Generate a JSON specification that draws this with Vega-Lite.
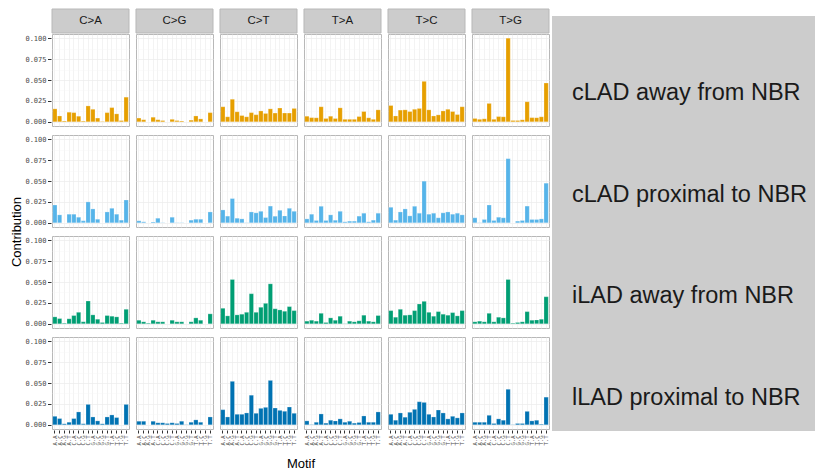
{
  "$schema": "https://vega.github.io/schema/vega-lite/v6.json",
  "background": "white",
  "padding": {"left": 10, "top": 8, "right": 0, "bottom": 0},
  "config": {
    "font": "Liberation Sans",
    "view": {"stroke": null},
    "axis": {
      "labelFont": "DejaVu Sans Mono",
      "labelColor": "#4d4d4d",
      "titleFont": "Liberation Sans",
      "titleFontWeight": "normal",
      "titleFontSize": 13,
      "titleColor": "#000000",
      "domain": false,
      "tickColor": "#333333"
    },
    "header": {
      "labelPadding": 0,
      "titleFont": "Liberation Sans",
      "titleFontWeight": "normal",
      "titleFontSize": 13,
      "titleColor": "#000000"
    }
  },
  "datasets": {
    "types": [
      {"type": "C>A"}, {"type": "C>G"}, {"type": "C>T"},
      {"type": "T>A"}, {"type": "T>C"}, {"type": "T>G"}
    ],
    "groups": [
      {"grp": "cLAD away from NBR"},
      {"grp": "cLAD proximal to NBR"},
      {"grp": "iLAD away from NBR"},
      {"grp": "lLAD proximal to NBR"}
    ],
    "profile": [
      {"grp": "cLAD away from NBR", "type": "C>A", "motif": "A.A", "value": 0.0155},
      {"grp": "cLAD away from NBR", "type": "C>A", "motif": "A.C", "value": 0.007},
      {"grp": "cLAD away from NBR", "type": "C>A", "motif": "A.G", "value": 0.001},
      {"grp": "cLAD away from NBR", "type": "C>A", "motif": "A.T", "value": 0.0115},
      {"grp": "cLAD away from NBR", "type": "C>A", "motif": "C.A", "value": 0.011},
      {"grp": "cLAD away from NBR", "type": "C>A", "motif": "C.C", "value": 0.0067},
      {"grp": "cLAD away from NBR", "type": "C>A", "motif": "C.G", "value": 0.001},
      {"grp": "cLAD away from NBR", "type": "C>A", "motif": "C.T", "value": 0.019},
      {"grp": "cLAD away from NBR", "type": "C>A", "motif": "G.A", "value": 0.015},
      {"grp": "cLAD away from NBR", "type": "C>A", "motif": "G.C", "value": 0.0045},
      {"grp": "cLAD away from NBR", "type": "C>A", "motif": "G.G", "value": 0.0005},
      {"grp": "cLAD away from NBR", "type": "C>A", "motif": "G.T", "value": 0.011},
      {"grp": "cLAD away from NBR", "type": "C>A", "motif": "T.A", "value": 0.017},
      {"grp": "cLAD away from NBR", "type": "C>A", "motif": "T.C", "value": 0.0095},
      {"grp": "cLAD away from NBR", "type": "C>A", "motif": "T.G", "value": 0.0015},
      {"grp": "cLAD away from NBR", "type": "C>A", "motif": "T.T", "value": 0.0295},
      {"grp": "cLAD away from NBR", "type": "C>G", "motif": "A.A", "value": 0.0045},
      {"grp": "cLAD away from NBR", "type": "C>G", "motif": "A.C", "value": 0.0025},
      {"grp": "cLAD away from NBR", "type": "C>G", "motif": "A.G", "value": 0.0},
      {"grp": "cLAD away from NBR", "type": "C>G", "motif": "A.T", "value": 0.0055},
      {"grp": "cLAD away from NBR", "type": "C>G", "motif": "C.A", "value": 0.0025},
      {"grp": "cLAD away from NBR", "type": "C>G", "motif": "C.C", "value": 0.0015},
      {"grp": "cLAD away from NBR", "type": "C>G", "motif": "C.G", "value": 0.0},
      {"grp": "cLAD away from NBR", "type": "C>G", "motif": "C.T", "value": 0.003},
      {"grp": "cLAD away from NBR", "type": "C>G", "motif": "G.A", "value": 0.0015},
      {"grp": "cLAD away from NBR", "type": "C>G", "motif": "G.C", "value": 0.001},
      {"grp": "cLAD away from NBR", "type": "C>G", "motif": "G.G", "value": 0.0},
      {"grp": "cLAD away from NBR", "type": "C>G", "motif": "G.T", "value": 0.002},
      {"grp": "cLAD away from NBR", "type": "C>G", "motif": "T.A", "value": 0.007},
      {"grp": "cLAD away from NBR", "type": "C>G", "motif": "T.C", "value": 0.0035},
      {"grp": "cLAD away from NBR", "type": "C>G", "motif": "T.G", "value": 0.0},
      {"grp": "cLAD away from NBR", "type": "C>G", "motif": "T.T", "value": 0.011},
      {"grp": "cLAD away from NBR", "type": "C>T", "motif": "A.A", "value": 0.018},
      {"grp": "cLAD away from NBR", "type": "C>T", "motif": "A.C", "value": 0.006},
      {"grp": "cLAD away from NBR", "type": "C>T", "motif": "A.G", "value": 0.027},
      {"grp": "cLAD away from NBR", "type": "C>T", "motif": "A.T", "value": 0.012},
      {"grp": "cLAD away from NBR", "type": "C>T", "motif": "C.A", "value": 0.0075},
      {"grp": "cLAD away from NBR", "type": "C>T", "motif": "C.C", "value": 0.006},
      {"grp": "cLAD away from NBR", "type": "C>T", "motif": "C.G", "value": 0.011},
      {"grp": "cLAD away from NBR", "type": "C>T", "motif": "C.T", "value": 0.0085},
      {"grp": "cLAD away from NBR", "type": "C>T", "motif": "G.A", "value": 0.013},
      {"grp": "cLAD away from NBR", "type": "C>T", "motif": "G.C", "value": 0.01},
      {"grp": "cLAD away from NBR", "type": "C>T", "motif": "G.G", "value": 0.0155},
      {"grp": "cLAD away from NBR", "type": "C>T", "motif": "G.T", "value": 0.0105},
      {"grp": "cLAD away from NBR", "type": "C>T", "motif": "T.A", "value": 0.0165},
      {"grp": "cLAD away from NBR", "type": "C>T", "motif": "T.C", "value": 0.0105},
      {"grp": "cLAD away from NBR", "type": "C>T", "motif": "T.G", "value": 0.0105},
      {"grp": "cLAD away from NBR", "type": "C>T", "motif": "T.T", "value": 0.016},
      {"grp": "cLAD away from NBR", "type": "T>A", "motif": "A.A", "value": 0.0067},
      {"grp": "cLAD away from NBR", "type": "T>A", "motif": "A.C", "value": 0.005},
      {"grp": "cLAD away from NBR", "type": "T>A", "motif": "A.G", "value": 0.0048},
      {"grp": "cLAD away from NBR", "type": "T>A", "motif": "A.T", "value": 0.018},
      {"grp": "cLAD away from NBR", "type": "T>A", "motif": "C.A", "value": 0.004},
      {"grp": "cLAD away from NBR", "type": "T>A", "motif": "C.C", "value": 0.0067},
      {"grp": "cLAD away from NBR", "type": "T>A", "motif": "C.G", "value": 0.004},
      {"grp": "cLAD away from NBR", "type": "T>A", "motif": "C.T", "value": 0.0167},
      {"grp": "cLAD away from NBR", "type": "T>A", "motif": "G.A", "value": 0.003},
      {"grp": "cLAD away from NBR", "type": "T>A", "motif": "G.C", "value": 0.003},
      {"grp": "cLAD away from NBR", "type": "T>A", "motif": "G.G", "value": 0.003},
      {"grp": "cLAD away from NBR", "type": "T>A", "motif": "G.T", "value": 0.0063},
      {"grp": "cLAD away from NBR", "type": "T>A", "motif": "T.A", "value": 0.0123},
      {"grp": "cLAD away from NBR", "type": "T>A", "motif": "T.C", "value": 0.0048},
      {"grp": "cLAD away from NBR", "type": "T>A", "motif": "T.G", "value": 0.003},
      {"grp": "cLAD away from NBR", "type": "T>A", "motif": "T.T", "value": 0.0143},
      {"grp": "cLAD away from NBR", "type": "T>C", "motif": "A.A", "value": 0.0195},
      {"grp": "cLAD away from NBR", "type": "T>C", "motif": "A.C", "value": 0.007},
      {"grp": "cLAD away from NBR", "type": "T>C", "motif": "A.G", "value": 0.014},
      {"grp": "cLAD away from NBR", "type": "T>C", "motif": "A.T", "value": 0.0143},
      {"grp": "cLAD away from NBR", "type": "T>C", "motif": "C.A", "value": 0.0123},
      {"grp": "cLAD away from NBR", "type": "T>C", "motif": "C.C", "value": 0.015},
      {"grp": "cLAD away from NBR", "type": "T>C", "motif": "C.G", "value": 0.016},
      {"grp": "cLAD away from NBR", "type": "T>C", "motif": "C.T", "value": 0.0484},
      {"grp": "cLAD away from NBR", "type": "T>C", "motif": "G.A", "value": 0.0143},
      {"grp": "cLAD away from NBR", "type": "T>C", "motif": "G.C", "value": 0.007},
      {"grp": "cLAD away from NBR", "type": "T>C", "motif": "G.G", "value": 0.0083},
      {"grp": "cLAD away from NBR", "type": "T>C", "motif": "G.T", "value": 0.013},
      {"grp": "cLAD away from NBR", "type": "T>C", "motif": "T.A", "value": 0.015},
      {"grp": "cLAD away from NBR", "type": "T>C", "motif": "T.C", "value": 0.0123},
      {"grp": "cLAD away from NBR", "type": "T>C", "motif": "T.G", "value": 0.0087},
      {"grp": "cLAD away from NBR", "type": "T>C", "motif": "T.T", "value": 0.018},
      {"grp": "cLAD away from NBR", "type": "T>G", "motif": "A.A", "value": 0.004},
      {"grp": "cLAD away from NBR", "type": "T>G", "motif": "A.C", "value": 0.003},
      {"grp": "cLAD away from NBR", "type": "T>G", "motif": "A.G", "value": 0.0036},
      {"grp": "cLAD away from NBR", "type": "T>G", "motif": "A.T", "value": 0.022},
      {"grp": "cLAD away from NBR", "type": "T>G", "motif": "C.A", "value": 0.003},
      {"grp": "cLAD away from NBR", "type": "T>G", "motif": "C.C", "value": 0.0063},
      {"grp": "cLAD away from NBR", "type": "T>G", "motif": "C.G", "value": 0.006},
      {"grp": "cLAD away from NBR", "type": "T>G", "motif": "C.T", "value": 0.1},
      {"grp": "cLAD away from NBR", "type": "T>G", "motif": "G.A", "value": 0.0016},
      {"grp": "cLAD away from NBR", "type": "T>G", "motif": "G.C", "value": 0.0016},
      {"grp": "cLAD away from NBR", "type": "T>G", "motif": "G.G", "value": 0.0024},
      {"grp": "cLAD away from NBR", "type": "T>G", "motif": "G.T", "value": 0.024},
      {"grp": "cLAD away from NBR", "type": "T>G", "motif": "T.A", "value": 0.005},
      {"grp": "cLAD away from NBR", "type": "T>G", "motif": "T.C", "value": 0.005},
      {"grp": "cLAD away from NBR", "type": "T>G", "motif": "T.G", "value": 0.006},
      {"grp": "cLAD away from NBR", "type": "T>G", "motif": "T.T", "value": 0.0464},

      {"grp": "cLAD proximal to NBR", "type": "C>A", "motif": "A.A", "value": 0.0213},
      {"grp": "cLAD proximal to NBR", "type": "C>A", "motif": "A.C", "value": 0.0095},
      {"grp": "cLAD proximal to NBR", "type": "C>A", "motif": "A.G", "value": 0.0},
      {"grp": "cLAD proximal to NBR", "type": "C>A", "motif": "A.T", "value": 0.0103},
      {"grp": "cLAD proximal to NBR", "type": "C>A", "motif": "C.A", "value": 0.0103},
      {"grp": "cLAD proximal to NBR", "type": "C>A", "motif": "C.C", "value": 0.0067},
      {"grp": "cLAD proximal to NBR", "type": "C>A", "motif": "C.G", "value": 0.0024},
      {"grp": "cLAD proximal to NBR", "type": "C>A", "motif": "C.T", "value": 0.025},
      {"grp": "cLAD proximal to NBR", "type": "C>A", "motif": "G.A", "value": 0.0166},
      {"grp": "cLAD proximal to NBR", "type": "C>A", "motif": "G.C", "value": 0.0043},
      {"grp": "cLAD proximal to NBR", "type": "C>A", "motif": "G.G", "value": 0.0},
      {"grp": "cLAD proximal to NBR", "type": "C>A", "motif": "G.T", "value": 0.013},
      {"grp": "cLAD proximal to NBR", "type": "C>A", "motif": "T.A", "value": 0.0174},
      {"grp": "cLAD proximal to NBR", "type": "C>A", "motif": "T.C", "value": 0.0103},
      {"grp": "cLAD proximal to NBR", "type": "C>A", "motif": "T.G", "value": 0.0032},
      {"grp": "cLAD proximal to NBR", "type": "C>A", "motif": "T.T", "value": 0.0273},
      {"grp": "cLAD proximal to NBR", "type": "C>G", "motif": "A.A", "value": 0.0024},
      {"grp": "cLAD proximal to NBR", "type": "C>G", "motif": "A.C", "value": 0.0012},
      {"grp": "cLAD proximal to NBR", "type": "C>G", "motif": "A.G", "value": 0.0},
      {"grp": "cLAD proximal to NBR", "type": "C>G", "motif": "A.T", "value": 0.001},
      {"grp": "cLAD proximal to NBR", "type": "C>G", "motif": "C.A", "value": 0.0055},
      {"grp": "cLAD proximal to NBR", "type": "C>G", "motif": "C.C", "value": 0.0003},
      {"grp": "cLAD proximal to NBR", "type": "C>G", "motif": "C.G", "value": 0.0},
      {"grp": "cLAD proximal to NBR", "type": "C>G", "motif": "C.T", "value": 0.0067},
      {"grp": "cLAD proximal to NBR", "type": "C>G", "motif": "G.A", "value": 0.0003},
      {"grp": "cLAD proximal to NBR", "type": "C>G", "motif": "G.C", "value": 0.0003},
      {"grp": "cLAD proximal to NBR", "type": "C>G", "motif": "G.G", "value": 0.0},
      {"grp": "cLAD proximal to NBR", "type": "C>G", "motif": "G.T", "value": 0.0032},
      {"grp": "cLAD proximal to NBR", "type": "C>G", "motif": "T.A", "value": 0.0043},
      {"grp": "cLAD proximal to NBR", "type": "C>G", "motif": "T.C", "value": 0.0043},
      {"grp": "cLAD proximal to NBR", "type": "C>G", "motif": "T.G", "value": 0.0},
      {"grp": "cLAD proximal to NBR", "type": "C>G", "motif": "T.T", "value": 0.013},
      {"grp": "cLAD proximal to NBR", "type": "C>T", "motif": "A.A", "value": 0.0154},
      {"grp": "cLAD proximal to NBR", "type": "C>T", "motif": "A.C", "value": 0.008},
      {"grp": "cLAD proximal to NBR", "type": "C>T", "motif": "A.G", "value": 0.029},
      {"grp": "cLAD proximal to NBR", "type": "C>T", "motif": "A.T", "value": 0.0055},
      {"grp": "cLAD proximal to NBR", "type": "C>T", "motif": "C.A", "value": 0.0047},
      {"grp": "cLAD proximal to NBR", "type": "C>T", "motif": "C.C", "value": 0.0003},
      {"grp": "cLAD proximal to NBR", "type": "C>T", "motif": "C.G", "value": 0.013},
      {"grp": "cLAD proximal to NBR", "type": "C>T", "motif": "C.T", "value": 0.0119},
      {"grp": "cLAD proximal to NBR", "type": "C>T", "motif": "G.A", "value": 0.0138},
      {"grp": "cLAD proximal to NBR", "type": "C>T", "motif": "G.C", "value": 0.0063},
      {"grp": "cLAD proximal to NBR", "type": "C>T", "motif": "G.G", "value": 0.02},
      {"grp": "cLAD proximal to NBR", "type": "C>T", "motif": "G.T", "value": 0.0079},
      {"grp": "cLAD proximal to NBR", "type": "C>T", "motif": "T.A", "value": 0.015},
      {"grp": "cLAD proximal to NBR", "type": "C>T", "motif": "T.C", "value": 0.0083},
      {"grp": "cLAD proximal to NBR", "type": "C>T", "motif": "T.G", "value": 0.0174},
      {"grp": "cLAD proximal to NBR", "type": "C>T", "motif": "T.T", "value": 0.0138},
      {"grp": "cLAD proximal to NBR", "type": "T>A", "motif": "A.A", "value": 0.0047},
      {"grp": "cLAD proximal to NBR", "type": "T>A", "motif": "A.C", "value": 0.0103},
      {"grp": "cLAD proximal to NBR", "type": "T>A", "motif": "A.G", "value": 0.0028},
      {"grp": "cLAD proximal to NBR", "type": "T>A", "motif": "A.T", "value": 0.0198},
      {"grp": "cLAD proximal to NBR", "type": "T>A", "motif": "C.A", "value": 0.0028},
      {"grp": "cLAD proximal to NBR", "type": "T>A", "motif": "C.C", "value": 0.0095},
      {"grp": "cLAD proximal to NBR", "type": "T>A", "motif": "C.G", "value": 0.0032},
      {"grp": "cLAD proximal to NBR", "type": "T>A", "motif": "C.T", "value": 0.0138},
      {"grp": "cLAD proximal to NBR", "type": "T>A", "motif": "G.A", "value": 0.0012},
      {"grp": "cLAD proximal to NBR", "type": "T>A", "motif": "G.C", "value": 0.002},
      {"grp": "cLAD proximal to NBR", "type": "T>A", "motif": "G.G", "value": 0.002},
      {"grp": "cLAD proximal to NBR", "type": "T>A", "motif": "G.T", "value": 0.008},
      {"grp": "cLAD proximal to NBR", "type": "T>A", "motif": "T.A", "value": 0.0115},
      {"grp": "cLAD proximal to NBR", "type": "T>A", "motif": "T.C", "value": 0.0012},
      {"grp": "cLAD proximal to NBR", "type": "T>A", "motif": "T.G", "value": 0.0032},
      {"grp": "cLAD proximal to NBR", "type": "T>A", "motif": "T.T", "value": 0.0115},
      {"grp": "cLAD proximal to NBR", "type": "T>C", "motif": "A.A", "value": 0.0186},
      {"grp": "cLAD proximal to NBR", "type": "T>C", "motif": "A.C", "value": 0.0032},
      {"grp": "cLAD proximal to NBR", "type": "T>C", "motif": "A.G", "value": 0.013},
      {"grp": "cLAD proximal to NBR", "type": "T>C", "motif": "A.T", "value": 0.0166},
      {"grp": "cLAD proximal to NBR", "type": "T>C", "motif": "C.A", "value": 0.0083},
      {"grp": "cLAD proximal to NBR", "type": "T>C", "motif": "C.C", "value": 0.0198},
      {"grp": "cLAD proximal to NBR", "type": "T>C", "motif": "C.G", "value": 0.0115},
      {"grp": "cLAD proximal to NBR", "type": "T>C", "motif": "C.T", "value": 0.0498},
      {"grp": "cLAD proximal to NBR", "type": "T>C", "motif": "G.A", "value": 0.0103},
      {"grp": "cLAD proximal to NBR", "type": "T>C", "motif": "G.C", "value": 0.0115},
      {"grp": "cLAD proximal to NBR", "type": "T>C", "motif": "G.G", "value": 0.006},
      {"grp": "cLAD proximal to NBR", "type": "T>C", "motif": "G.T", "value": 0.0119},
      {"grp": "cLAD proximal to NBR", "type": "T>C", "motif": "T.A", "value": 0.013},
      {"grp": "cLAD proximal to NBR", "type": "T>C", "motif": "T.C", "value": 0.0103},
      {"grp": "cLAD proximal to NBR", "type": "T>C", "motif": "T.G", "value": 0.0115},
      {"grp": "cLAD proximal to NBR", "type": "T>C", "motif": "T.T", "value": 0.0095},
      {"grp": "cLAD proximal to NBR", "type": "T>G", "motif": "A.A", "value": 0.006},
      {"grp": "cLAD proximal to NBR", "type": "T>G", "motif": "A.C", "value": 0.0003},
      {"grp": "cLAD proximal to NBR", "type": "T>G", "motif": "A.G", "value": 0.004},
      {"grp": "cLAD proximal to NBR", "type": "T>G", "motif": "A.T", "value": 0.0213},
      {"grp": "cLAD proximal to NBR", "type": "T>G", "motif": "C.A", "value": 0.0028},
      {"grp": "cLAD proximal to NBR", "type": "T>G", "motif": "C.C", "value": 0.0067},
      {"grp": "cLAD proximal to NBR", "type": "T>G", "motif": "C.G", "value": 0.006},
      {"grp": "cLAD proximal to NBR", "type": "T>G", "motif": "C.T", "value": 0.0767},
      {"grp": "cLAD proximal to NBR", "type": "T>G", "motif": "G.A", "value": 0.0},
      {"grp": "cLAD proximal to NBR", "type": "T>G", "motif": "G.C", "value": 0.002},
      {"grp": "cLAD proximal to NBR", "type": "T>G", "motif": "G.G", "value": 0.0028},
      {"grp": "cLAD proximal to NBR", "type": "T>G", "motif": "G.T", "value": 0.02},
      {"grp": "cLAD proximal to NBR", "type": "T>G", "motif": "T.A", "value": 0.004},
      {"grp": "cLAD proximal to NBR", "type": "T>G", "motif": "T.C", "value": 0.004},
      {"grp": "cLAD proximal to NBR", "type": "T>G", "motif": "T.G", "value": 0.0047},
      {"grp": "cLAD proximal to NBR", "type": "T>G", "motif": "T.T", "value": 0.0474},

      {"grp": "iLAD away from NBR", "type": "C>A", "motif": "A.A", "value": 0.0083},
      {"grp": "iLAD away from NBR", "type": "C>A", "motif": "A.C", "value": 0.0063},
      {"grp": "iLAD away from NBR", "type": "C>A", "motif": "A.G", "value": 0.0008},
      {"grp": "iLAD away from NBR", "type": "C>A", "motif": "A.T", "value": 0.006},
      {"grp": "iLAD away from NBR", "type": "C>A", "motif": "C.A", "value": 0.0099},
      {"grp": "iLAD away from NBR", "type": "C>A", "motif": "C.C", "value": 0.0138},
      {"grp": "iLAD away from NBR", "type": "C>A", "motif": "C.G", "value": 0.0024},
      {"grp": "iLAD away from NBR", "type": "C>A", "motif": "C.T", "value": 0.0273},
      {"grp": "iLAD away from NBR", "type": "C>A", "motif": "G.A", "value": 0.0107},
      {"grp": "iLAD away from NBR", "type": "C>A", "motif": "G.C", "value": 0.0055},
      {"grp": "iLAD away from NBR", "type": "C>A", "motif": "G.G", "value": 0.0016},
      {"grp": "iLAD away from NBR", "type": "C>A", "motif": "G.T", "value": 0.0099},
      {"grp": "iLAD away from NBR", "type": "C>A", "motif": "T.A", "value": 0.0091},
      {"grp": "iLAD away from NBR", "type": "C>A", "motif": "T.C", "value": 0.0083},
      {"grp": "iLAD away from NBR", "type": "C>A", "motif": "T.G", "value": 0.0008},
      {"grp": "iLAD away from NBR", "type": "C>A", "motif": "T.T", "value": 0.0174},
      {"grp": "iLAD away from NBR", "type": "C>G", "motif": "A.A", "value": 0.0043},
      {"grp": "iLAD away from NBR", "type": "C>G", "motif": "A.C", "value": 0.0024},
      {"grp": "iLAD away from NBR", "type": "C>G", "motif": "A.G", "value": 0.0008},
      {"grp": "iLAD away from NBR", "type": "C>G", "motif": "A.T", "value": 0.0043},
      {"grp": "iLAD away from NBR", "type": "C>G", "motif": "C.A", "value": 0.0024},
      {"grp": "iLAD away from NBR", "type": "C>G", "motif": "C.C", "value": 0.0024},
      {"grp": "iLAD away from NBR", "type": "C>G", "motif": "C.G", "value": 0.0},
      {"grp": "iLAD away from NBR", "type": "C>G", "motif": "C.T", "value": 0.0043},
      {"grp": "iLAD away from NBR", "type": "C>G", "motif": "G.A", "value": 0.0024},
      {"grp": "iLAD away from NBR", "type": "C>G", "motif": "G.C", "value": 0.0024},
      {"grp": "iLAD away from NBR", "type": "C>G", "motif": "G.G", "value": 0.0},
      {"grp": "iLAD away from NBR", "type": "C>G", "motif": "G.T", "value": 0.0024},
      {"grp": "iLAD away from NBR", "type": "C>G", "motif": "T.A", "value": 0.0071},
      {"grp": "iLAD away from NBR", "type": "C>G", "motif": "T.C", "value": 0.0043},
      {"grp": "iLAD away from NBR", "type": "C>G", "motif": "T.G", "value": 0.0},
      {"grp": "iLAD away from NBR", "type": "C>G", "motif": "T.T", "value": 0.0119},
      {"grp": "iLAD away from NBR", "type": "C>T", "motif": "A.A", "value": 0.0186},
      {"grp": "iLAD away from NBR", "type": "C>T", "motif": "A.C", "value": 0.0095},
      {"grp": "iLAD away from NBR", "type": "C>T", "motif": "A.G", "value": 0.053},
      {"grp": "iLAD away from NBR", "type": "C>T", "motif": "A.T", "value": 0.0107},
      {"grp": "iLAD away from NBR", "type": "C>T", "motif": "C.A", "value": 0.0115},
      {"grp": "iLAD away from NBR", "type": "C>T", "motif": "C.C", "value": 0.0138},
      {"grp": "iLAD away from NBR", "type": "C>T", "motif": "C.G", "value": 0.036},
      {"grp": "iLAD away from NBR", "type": "C>T", "motif": "C.T", "value": 0.0138},
      {"grp": "iLAD away from NBR", "type": "C>T", "motif": "G.A", "value": 0.0198},
      {"grp": "iLAD away from NBR", "type": "C>T", "motif": "G.C", "value": 0.0245},
      {"grp": "iLAD away from NBR", "type": "C>T", "motif": "G.G", "value": 0.0478},
      {"grp": "iLAD away from NBR", "type": "C>T", "motif": "G.T", "value": 0.018},
      {"grp": "iLAD away from NBR", "type": "C>T", "motif": "T.A", "value": 0.0166},
      {"grp": "iLAD away from NBR", "type": "C>T", "motif": "T.C", "value": 0.015},
      {"grp": "iLAD away from NBR", "type": "C>T", "motif": "T.G", "value": 0.0206},
      {"grp": "iLAD away from NBR", "type": "C>T", "motif": "T.T", "value": 0.0158},
      {"grp": "iLAD away from NBR", "type": "T>A", "motif": "A.A", "value": 0.0032},
      {"grp": "iLAD away from NBR", "type": "T>A", "motif": "A.C", "value": 0.0043},
      {"grp": "iLAD away from NBR", "type": "T>A", "motif": "A.G", "value": 0.0032},
      {"grp": "iLAD away from NBR", "type": "T>A", "motif": "A.T", "value": 0.0126},
      {"grp": "iLAD away from NBR", "type": "T>A", "motif": "C.A", "value": 0.0016},
      {"grp": "iLAD away from NBR", "type": "T>A", "motif": "C.C", "value": 0.0071},
      {"grp": "iLAD away from NBR", "type": "T>A", "motif": "C.G", "value": 0.0043},
      {"grp": "iLAD away from NBR", "type": "T>A", "motif": "C.T", "value": 0.0091},
      {"grp": "iLAD away from NBR", "type": "T>A", "motif": "G.A", "value": 0.0003},
      {"grp": "iLAD away from NBR", "type": "T>A", "motif": "G.C", "value": 0.0032},
      {"grp": "iLAD away from NBR", "type": "T>A", "motif": "G.G", "value": 0.0024},
      {"grp": "iLAD away from NBR", "type": "T>A", "motif": "G.T", "value": 0.0036},
      {"grp": "iLAD away from NBR", "type": "T>A", "motif": "T.A", "value": 0.0103},
      {"grp": "iLAD away from NBR", "type": "T>A", "motif": "T.C", "value": 0.0032},
      {"grp": "iLAD away from NBR", "type": "T>A", "motif": "T.G", "value": 0.0024},
      {"grp": "iLAD away from NBR", "type": "T>A", "motif": "T.T", "value": 0.0099},
      {"grp": "iLAD away from NBR", "type": "T>C", "motif": "A.A", "value": 0.0158},
      {"grp": "iLAD away from NBR", "type": "T>C", "motif": "A.C", "value": 0.0079},
      {"grp": "iLAD away from NBR", "type": "T>C", "motif": "A.G", "value": 0.0174},
      {"grp": "iLAD away from NBR", "type": "T>C", "motif": "A.T", "value": 0.0103},
      {"grp": "iLAD away from NBR", "type": "T>C", "motif": "C.A", "value": 0.0107},
      {"grp": "iLAD away from NBR", "type": "T>C", "motif": "C.C", "value": 0.0158},
      {"grp": "iLAD away from NBR", "type": "T>C", "motif": "C.G", "value": 0.0237},
      {"grp": "iLAD away from NBR", "type": "T>C", "motif": "C.T", "value": 0.0269},
      {"grp": "iLAD away from NBR", "type": "T>C", "motif": "G.A", "value": 0.0138},
      {"grp": "iLAD away from NBR", "type": "T>C", "motif": "G.C", "value": 0.0091},
      {"grp": "iLAD away from NBR", "type": "T>C", "motif": "G.G", "value": 0.0146},
      {"grp": "iLAD away from NBR", "type": "T>C", "motif": "G.T", "value": 0.0115},
      {"grp": "iLAD away from NBR", "type": "T>C", "motif": "T.A", "value": 0.0103},
      {"grp": "iLAD away from NBR", "type": "T>C", "motif": "T.C", "value": 0.0134},
      {"grp": "iLAD away from NBR", "type": "T>C", "motif": "T.G", "value": 0.0095},
      {"grp": "iLAD away from NBR", "type": "T>C", "motif": "T.T", "value": 0.0158},
      {"grp": "iLAD away from NBR", "type": "T>G", "motif": "A.A", "value": 0.0024},
      {"grp": "iLAD away from NBR", "type": "T>G", "motif": "A.C", "value": 0.0032},
      {"grp": "iLAD away from NBR", "type": "T>G", "motif": "A.G", "value": 0.0024},
      {"grp": "iLAD away from NBR", "type": "T>G", "motif": "A.T", "value": 0.0126},
      {"grp": "iLAD away from NBR", "type": "T>G", "motif": "C.A", "value": 0.0024},
      {"grp": "iLAD away from NBR", "type": "T>G", "motif": "C.C", "value": 0.0079},
      {"grp": "iLAD away from NBR", "type": "T>G", "motif": "C.G", "value": 0.0071},
      {"grp": "iLAD away from NBR", "type": "T>G", "motif": "C.T", "value": 0.053},
      {"grp": "iLAD away from NBR", "type": "T>G", "motif": "G.A", "value": 0.0008},
      {"grp": "iLAD away from NBR", "type": "T>G", "motif": "G.C", "value": 0.0016},
      {"grp": "iLAD away from NBR", "type": "T>G", "motif": "G.G", "value": 0.0024},
      {"grp": "iLAD away from NBR", "type": "T>G", "motif": "G.T", "value": 0.0146},
      {"grp": "iLAD away from NBR", "type": "T>G", "motif": "T.A", "value": 0.0043},
      {"grp": "iLAD away from NBR", "type": "T>G", "motif": "T.C", "value": 0.0047},
      {"grp": "iLAD away from NBR", "type": "T>G", "motif": "T.G", "value": 0.0055},
      {"grp": "iLAD away from NBR", "type": "T>G", "motif": "T.T", "value": 0.0324},

      {"grp": "lLAD proximal to NBR", "type": "C>A", "motif": "A.A", "value": 0.0102},
      {"grp": "lLAD proximal to NBR", "type": "C>A", "motif": "A.C", "value": 0.0075},
      {"grp": "lLAD proximal to NBR", "type": "C>A", "motif": "A.G", "value": 0.0012},
      {"grp": "lLAD proximal to NBR", "type": "C>A", "motif": "A.T", "value": 0.0031},
      {"grp": "lLAD proximal to NBR", "type": "C>A", "motif": "C.A", "value": 0.0075},
      {"grp": "lLAD proximal to NBR", "type": "C>A", "motif": "C.C", "value": 0.0154},
      {"grp": "lLAD proximal to NBR", "type": "C>A", "motif": "C.G", "value": 0.0012},
      {"grp": "lLAD proximal to NBR", "type": "C>A", "motif": "C.T", "value": 0.0244},
      {"grp": "lLAD proximal to NBR", "type": "C>A", "motif": "G.A", "value": 0.0094},
      {"grp": "lLAD proximal to NBR", "type": "C>A", "motif": "G.C", "value": 0.0047},
      {"grp": "lLAD proximal to NBR", "type": "C>A", "motif": "G.G", "value": 0.0012},
      {"grp": "lLAD proximal to NBR", "type": "C>A", "motif": "G.T", "value": 0.0094},
      {"grp": "lLAD proximal to NBR", "type": "C>A", "motif": "T.A", "value": 0.0118},
      {"grp": "lLAD proximal to NBR", "type": "C>A", "motif": "T.C", "value": 0.0087},
      {"grp": "lLAD proximal to NBR", "type": "C>A", "motif": "T.G", "value": 0.0},
      {"grp": "lLAD proximal to NBR", "type": "C>A", "motif": "T.T", "value": 0.0244},
      {"grp": "lLAD proximal to NBR", "type": "C>G", "motif": "A.A", "value": 0.0043},
      {"grp": "lLAD proximal to NBR", "type": "C>G", "motif": "A.C", "value": 0.0043},
      {"grp": "lLAD proximal to NBR", "type": "C>G", "motif": "A.G", "value": 0.0},
      {"grp": "lLAD proximal to NBR", "type": "C>G", "motif": "A.T", "value": 0.0043},
      {"grp": "lLAD proximal to NBR", "type": "C>G", "motif": "C.A", "value": 0.0024},
      {"grp": "lLAD proximal to NBR", "type": "C>G", "motif": "C.C", "value": 0.0024},
      {"grp": "lLAD proximal to NBR", "type": "C>G", "motif": "C.G", "value": 0.0016},
      {"grp": "lLAD proximal to NBR", "type": "C>G", "motif": "C.T", "value": 0.0024},
      {"grp": "lLAD proximal to NBR", "type": "C>G", "motif": "G.A", "value": 0.0016},
      {"grp": "lLAD proximal to NBR", "type": "C>G", "motif": "G.C", "value": 0.0043},
      {"grp": "lLAD proximal to NBR", "type": "C>G", "motif": "G.G", "value": 0.0003},
      {"grp": "lLAD proximal to NBR", "type": "C>G", "motif": "G.T", "value": 0.0031},
      {"grp": "lLAD proximal to NBR", "type": "C>G", "motif": "T.A", "value": 0.0059},
      {"grp": "lLAD proximal to NBR", "type": "C>G", "motif": "T.C", "value": 0.0031},
      {"grp": "lLAD proximal to NBR", "type": "C>G", "motif": "T.G", "value": 0.0},
      {"grp": "lLAD proximal to NBR", "type": "C>G", "motif": "T.T", "value": 0.0094},
      {"grp": "lLAD proximal to NBR", "type": "C>T", "motif": "A.A", "value": 0.0181},
      {"grp": "lLAD proximal to NBR", "type": "C>T", "motif": "A.C", "value": 0.0094},
      {"grp": "lLAD proximal to NBR", "type": "C>T", "motif": "A.G", "value": 0.052},
      {"grp": "lLAD proximal to NBR", "type": "C>T", "motif": "A.T", "value": 0.0126},
      {"grp": "lLAD proximal to NBR", "type": "C>T", "motif": "C.A", "value": 0.0126},
      {"grp": "lLAD proximal to NBR", "type": "C>T", "motif": "C.C", "value": 0.0142},
      {"grp": "lLAD proximal to NBR", "type": "C>T", "motif": "C.G", "value": 0.0354},
      {"grp": "lLAD proximal to NBR", "type": "C>T", "motif": "C.T", "value": 0.0138},
      {"grp": "lLAD proximal to NBR", "type": "C>T", "motif": "G.A", "value": 0.0197},
      {"grp": "lLAD proximal to NBR", "type": "C>T", "motif": "G.C", "value": 0.0209},
      {"grp": "lLAD proximal to NBR", "type": "C>T", "motif": "G.G", "value": 0.0531},
      {"grp": "lLAD proximal to NBR", "type": "C>T", "motif": "G.T", "value": 0.0201},
      {"grp": "lLAD proximal to NBR", "type": "C>T", "motif": "T.A", "value": 0.0173},
      {"grp": "lLAD proximal to NBR", "type": "C>T", "motif": "T.C", "value": 0.0161},
      {"grp": "lLAD proximal to NBR", "type": "C>T", "motif": "T.G", "value": 0.0213},
      {"grp": "lLAD proximal to NBR", "type": "C>T", "motif": "T.T", "value": 0.0138},
      {"grp": "lLAD proximal to NBR", "type": "T>A", "motif": "A.A", "value": 0.0047},
      {"grp": "lLAD proximal to NBR", "type": "T>A", "motif": "A.C", "value": 0.0004},
      {"grp": "lLAD proximal to NBR", "type": "T>A", "motif": "A.G", "value": 0.0031},
      {"grp": "lLAD proximal to NBR", "type": "T>A", "motif": "A.T", "value": 0.013},
      {"grp": "lLAD proximal to NBR", "type": "T>A", "motif": "C.A", "value": 0.002},
      {"grp": "lLAD proximal to NBR", "type": "T>A", "motif": "C.C", "value": 0.0055},
      {"grp": "lLAD proximal to NBR", "type": "T>A", "motif": "C.G", "value": 0.0047},
      {"grp": "lLAD proximal to NBR", "type": "T>A", "motif": "C.T", "value": 0.0071},
      {"grp": "lLAD proximal to NBR", "type": "T>A", "motif": "G.A", "value": 0.0031},
      {"grp": "lLAD proximal to NBR", "type": "T>A", "motif": "G.C", "value": 0.0043},
      {"grp": "lLAD proximal to NBR", "type": "T>A", "motif": "G.G", "value": 0.002},
      {"grp": "lLAD proximal to NBR", "type": "T>A", "motif": "G.T", "value": 0.0028},
      {"grp": "lLAD proximal to NBR", "type": "T>A", "motif": "T.A", "value": 0.0106},
      {"grp": "lLAD proximal to NBR", "type": "T>A", "motif": "T.C", "value": 0.0031},
      {"grp": "lLAD proximal to NBR", "type": "T>A", "motif": "T.G", "value": 0.0031},
      {"grp": "lLAD proximal to NBR", "type": "T>A", "motif": "T.T", "value": 0.0154},
      {"grp": "lLAD proximal to NBR", "type": "T>C", "motif": "A.A", "value": 0.0126},
      {"grp": "lLAD proximal to NBR", "type": "T>C", "motif": "A.C", "value": 0.0055},
      {"grp": "lLAD proximal to NBR", "type": "T>C", "motif": "A.G", "value": 0.0142},
      {"grp": "lLAD proximal to NBR", "type": "T>C", "motif": "A.T", "value": 0.0091},
      {"grp": "lLAD proximal to NBR", "type": "T>C", "motif": "C.A", "value": 0.015},
      {"grp": "lLAD proximal to NBR", "type": "T>C", "motif": "C.C", "value": 0.0185},
      {"grp": "lLAD proximal to NBR", "type": "T>C", "motif": "C.G", "value": 0.0276},
      {"grp": "lLAD proximal to NBR", "type": "T>C", "motif": "C.T", "value": 0.0268},
      {"grp": "lLAD proximal to NBR", "type": "T>C", "motif": "G.A", "value": 0.0126},
      {"grp": "lLAD proximal to NBR", "type": "T>C", "motif": "G.C", "value": 0.0094},
      {"grp": "lLAD proximal to NBR", "type": "T>C", "motif": "G.G", "value": 0.0177},
      {"grp": "lLAD proximal to NBR", "type": "T>C", "motif": "G.T", "value": 0.0142},
      {"grp": "lLAD proximal to NBR", "type": "T>C", "motif": "T.A", "value": 0.0071},
      {"grp": "lLAD proximal to NBR", "type": "T>C", "motif": "T.C", "value": 0.0102},
      {"grp": "lLAD proximal to NBR", "type": "T>C", "motif": "T.G", "value": 0.0083},
      {"grp": "lLAD proximal to NBR", "type": "T>C", "motif": "T.T", "value": 0.0142},
      {"grp": "lLAD proximal to NBR", "type": "T>G", "motif": "A.A", "value": 0.0031},
      {"grp": "lLAD proximal to NBR", "type": "T>G", "motif": "A.C", "value": 0.0031},
      {"grp": "lLAD proximal to NBR", "type": "T>G", "motif": "A.G", "value": 0.0031},
      {"grp": "lLAD proximal to NBR", "type": "T>G", "motif": "A.T", "value": 0.0114},
      {"grp": "lLAD proximal to NBR", "type": "T>G", "motif": "C.A", "value": 0.0016},
      {"grp": "lLAD proximal to NBR", "type": "T>G", "motif": "C.C", "value": 0.0071},
      {"grp": "lLAD proximal to NBR", "type": "T>G", "motif": "C.G", "value": 0.0055},
      {"grp": "lLAD proximal to NBR", "type": "T>G", "motif": "C.T", "value": 0.0425},
      {"grp": "lLAD proximal to NBR", "type": "T>G", "motif": "G.A", "value": 0.0003},
      {"grp": "lLAD proximal to NBR", "type": "T>G", "motif": "G.C", "value": 0.0016},
      {"grp": "lLAD proximal to NBR", "type": "T>G", "motif": "G.G", "value": 0.0016},
      {"grp": "lLAD proximal to NBR", "type": "T>G", "motif": "G.T", "value": 0.0161},
      {"grp": "lLAD proximal to NBR", "type": "T>G", "motif": "T.A", "value": 0.0047},
      {"grp": "lLAD proximal to NBR", "type": "T>G", "motif": "T.C", "value": 0.0055},
      {"grp": "lLAD proximal to NBR", "type": "T>G", "motif": "T.G", "value": 0.0008},
      {"grp": "lLAD proximal to NBR", "type": "T>G", "motif": "T.T", "value": 0.0331}
    ]
  },
  "spacing": 2,
  "hconcat": [
    {
      "spacing": -2,
      "vconcat": [
        {
          "data": {"name": "types"},
          "width": 497,
          "height": 24,
          "encoding": {
            "x": {
              "field": "type",
              "type": "nominal",
              "scale": {"paddingInner": 0.0833, "paddingOuter": 0},
              "axis": null
            },
            "y": {"datum": 0.5, "type": "quantitative", "scale": {"domain": [0, 1]}, "axis": null}
          },
          "layer": [
            {
              "mark": {"type": "bar", "fill": "#cccccc", "stroke": "#b8b8b8", "strokeWidth": 1},
              "encoding": {
                "y": {"datum": 0, "type": "quantitative"},
                "y2": {"datum": 1}
              }
            },
            {
              "mark": {"type": "text", "fontSize": 11.5, "color": "#1a1a1a", "baseline": "middle"},
              "encoding": {"text": {"field": "type"}}
            }
          ]
        },
        {
          "data": {"name": "profile"},
          "facet": {
            "row": {
              "field": "grp",
              "type": "nominal",
              "sort": ["cLAD away from NBR", "cLAD proximal to NBR", "iLAD away from NBR", "lLAD proximal to NBR"],
              "header": {"labels": false, "title": "Contribution", "titleOrient": "left", "titlePadding": -10}
            },
            "column": {
              "field": "type",
              "type": "nominal",
              "header": {"labels": false, "title": "Motif", "titleOrient": "bottom", "titlePadding": 3}
            }
          },
          "spacing": {"row": 7, "column": 5},
          "spec": {
            "width": 77,
            "height": 92,
            "view": {"fill": "white", "stroke": "#b8b8b8"},
            "mark": {"type": "bar", "stroke": "white", "strokeWidth": 0.25},
            "encoding": {
              "x": {
                "field": "motif",
                "type": "ordinal",
                "sort": null,
                "scale": {"paddingInner": 0.1, "paddingOuter": 0.15},
                "axis": {
                  "title": null,
                  "labelAngle": 270,
                  "labelFontSize": 5.5,
                  "labelPadding": 2,
                  "bandPosition": 0.5,
                  "tickSize": 3,
                  "grid": true,
                  "gridColor": "#ebebeb",
                  "gridWidth": 0.6
                }
              },
              "y": {
                "field": "value",
                "type": "quantitative",
                "scale": {"domain": [-0.005, 0.105], "nice": false, "zero": false},
                "axis": {
                  "title": null,
                  "values": [0, 0.0125, 0.025, 0.0375, 0.05, 0.0625, 0.075, 0.0875, 0.1],
                  "labelExpr": "round(datum.value * 80) % 2 == 0 ? format(datum.value, '.3f') : ''",
                  "labelOverlap": false,
                  "labelFontSize": 7,
                  "labelPadding": 1.5,
                  "tickSize": 3.5,
                  "tickOpacity": {"condition": {"test": "round(datum.value * 80) % 2 == 1", "value": 0}, "value": 1},
                  "grid": true,
                  "gridColor": {"condition": {"test": "round(datum.value * 80) % 2 == 1", "value": "#f4f4f4"}, "value": "#ebebeb"},
                  "gridWidth": {"condition": {"test": "round(datum.value * 80) % 2 == 1", "value": 0.4}, "value": 0.7}
                }
              },
              "y2": {"datum": 0},
              "color": {
                "field": "grp",
                "type": "nominal",
                "scale": {
                  "domain": ["cLAD away from NBR", "cLAD proximal to NBR", "iLAD away from NBR", "lLAD proximal to NBR"],
                  "range": ["#E69F00", "#56B4E9", "#009E73", "#0072B2"]
                },
                "legend": null
              }
            }
          }
        }
      ]
    },
    {
      "width": 263,
      "height": 422,
      "layer": [
        {
          "data": {"values": [{"panel": "labels"}]},
          "mark": {"type": "rect", "color": "#cccccc"},
          "encoding": {
            "x": {"datum": 0, "type": "quantitative", "scale": {"domain": [0, 1]}, "axis": null},
            "x2": {"datum": 1},
            "y": {"datum": 7, "type": "quantitative", "scale": {"domain": [0, 422], "reverse": true}, "axis": null},
            "y2": {"datum": 422}
          }
        },
        {
          "data": {"name": "groups"},
          "mark": {"type": "text", "align": "left", "baseline": "middle", "fontSize": 23.5, "color": "#1a1a1a", "dx": 20},
          "encoding": {
            "text": {"field": "grp"},
            "x": {"datum": 0, "type": "quantitative"},
            "y": {
              "field": "grp",
              "type": "nominal",
              "sort": null,
              "scale": {"type": "point", "padding": 0.5753, "align": 0.718},
              "axis": null
            }
          }
        }
      ],
      "resolve": {"scale": {"y": "independent"}}
    }
  ]
}
